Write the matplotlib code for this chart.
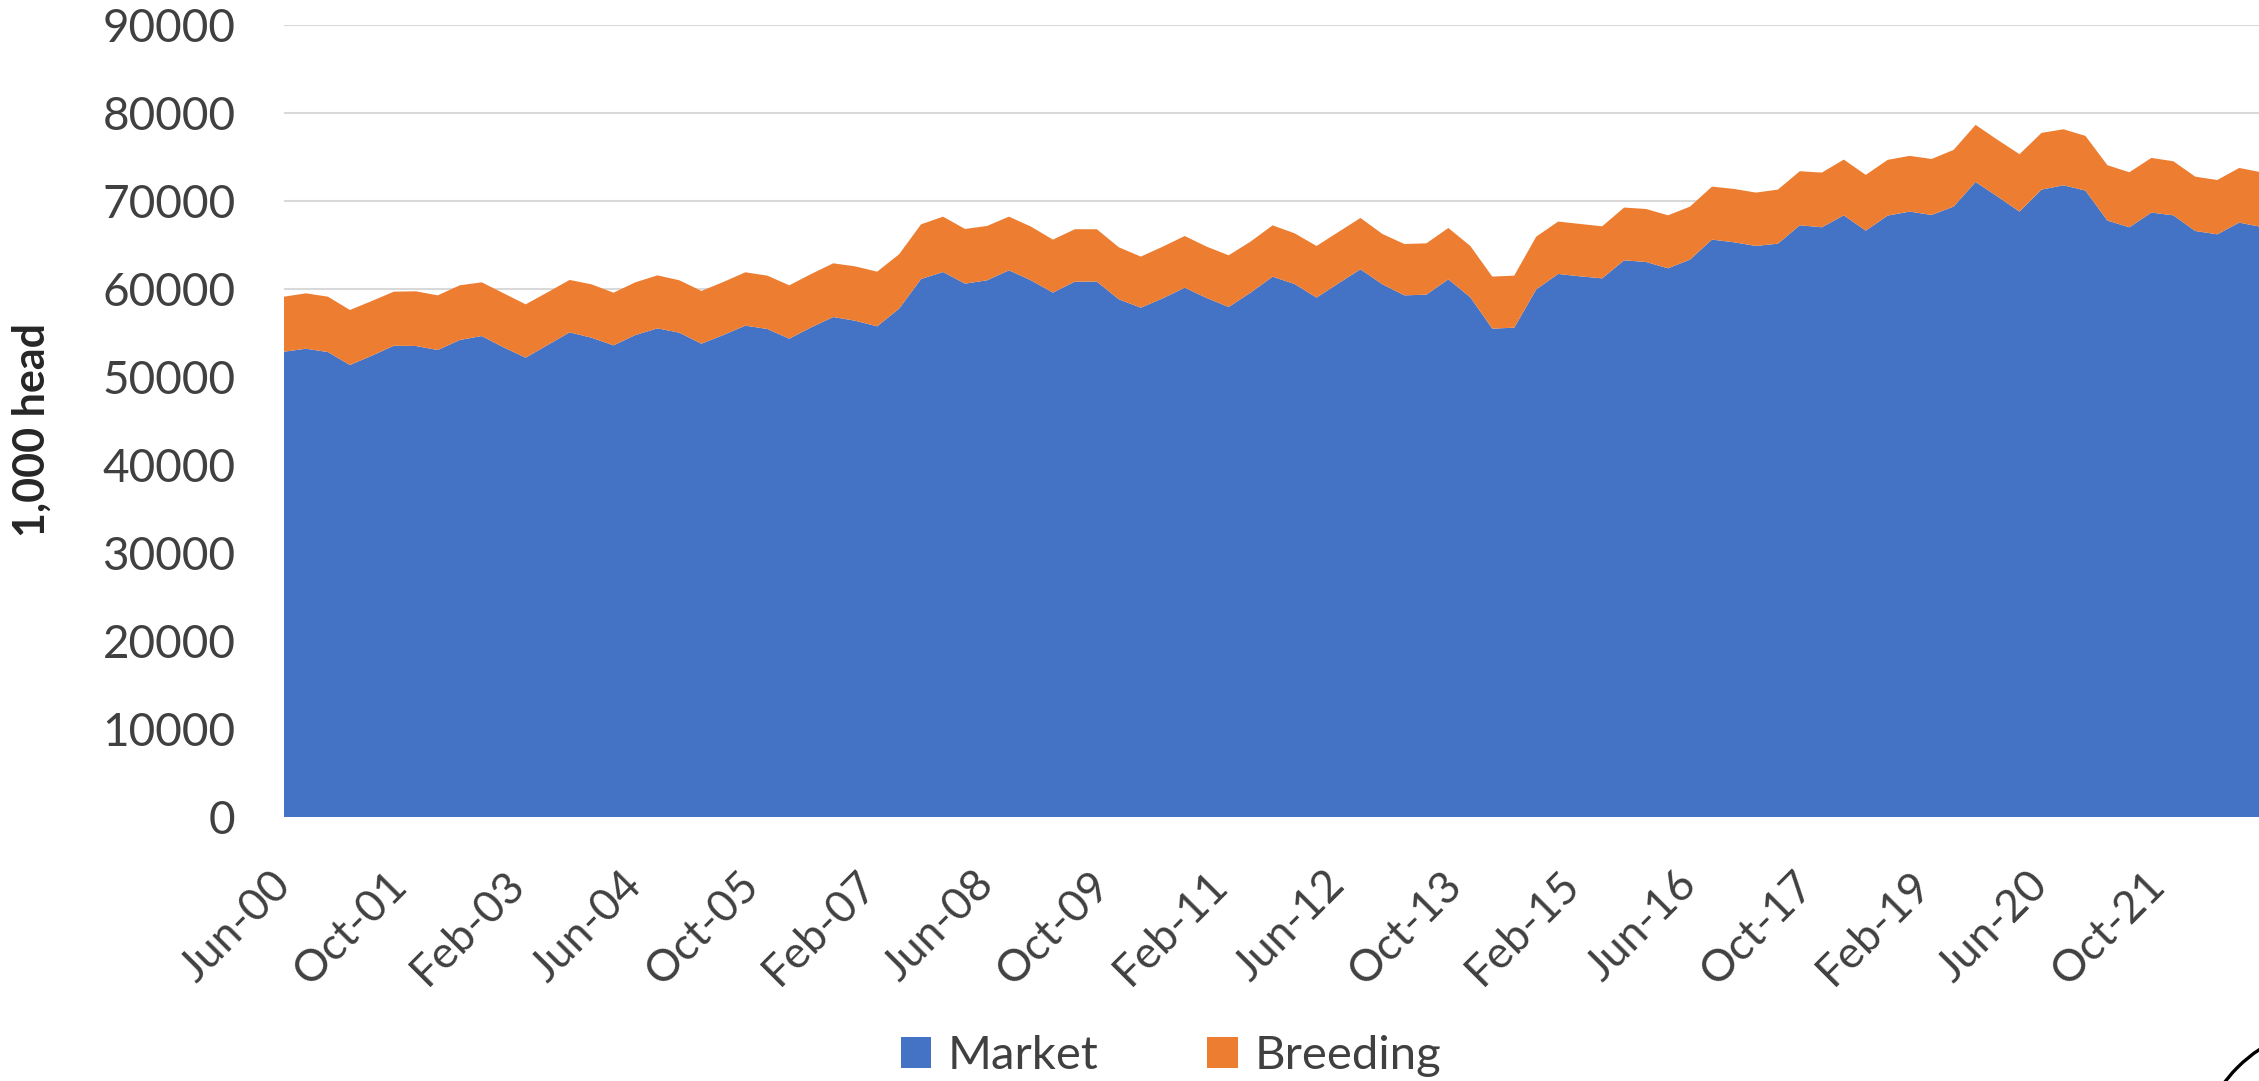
import matplotlib
matplotlib.use("Agg")
import matplotlib.pyplot as plt
from matplotlib import patches

# ---------------- data (1,000 head), quarterly from Jun-00 ----------------
market = [52840, 53180, 52800, 51330, 52390, 53520, 53490, 53030, 54170, 54620,
          53330, 52160, 53600, 55040, 54430, 53560, 54740, 55490, 55000, 53750,
          54740, 55800, 55420, 54320, 55610, 56780, 56360, 55720, 57730, 61100,
          61890, 60570, 60950, 62080, 60950, 59550, 60800, 60800, 58790, 57840,
          58900, 60110, 58940, 57920, 59550, 61360, 60530, 58980, 60610, 62200,
          60490, 59240, 59320, 61060, 59020, 55460, 55570, 59920, 61670, 61400,
          61170, 63220, 63030, 62310, 63300, 65570, 65270, 64850, 65110, 67200,
          66970, 68330, 66590, 68300, 68750, 68370, 69320, 72120, 70460, 68750,
          71250, 71740, 71140, 67730, 66970, 68640, 68330, 66550, 66170, 67500,
          67010]
breeding = [6250, 6290, 6290, 6250, 6210, 6140, 6210, 6210, 6210, 6100,
            6140, 6060, 5990, 5950, 6060, 5980, 5990, 6020, 5950, 5990,
            6020, 6060, 6060, 6060, 6060, 6100, 6170, 6210, 6180, 6210,
            6290, 6210, 6170, 6100, 6100, 6020, 5950, 5950, 5910, 5800,
            5870, 5870, 5830, 5870, 5800, 5830, 5760, 5870, 5830, 5830,
            5720, 5830, 5830, 5830, 5830, 5910, 5910, 5990, 5950, 5950,
            5910, 5990, 6020, 6020, 6020, 6020, 6060, 6060, 6140, 6140,
            6210, 6330, 6330, 6330, 6330, 6360, 6440, 6480, 6440, 6520,
            6440, 6360, 6210, 6290, 6250, 6210, 6140, 6170, 6170, 6210,
            6210]
tick_labels = ["Jun-00", "Oct-01", "Feb-03", "Jun-04", "Oct-05", "Feb-07",
               "Jun-08", "Oct-09", "Feb-11", "Jun-12", "Oct-13", "Feb-15",
               "Jun-16", "Oct-17", "Feb-19", "Jun-20", "Oct-21"]
series_names = ["Market", "Breeding"]
y_ticks = [0, 10000, 20000, 30000, 40000, 50000, 60000, 70000, 80000, 90000]

# months since Jun-00 for each quarterly observation
months = [3 * i for i in range(len(market))]
tick_months = [16 * k for k in range(len(tick_labels))]

BLUE = "#4472C4"
ORANGE = "#ED7D31"
TXT = "#404040"
FONT = ["Lato", "DejaVu Sans"]

plt.rcParams["font.family"] = FONT

W, H = 2259, 1081
fig = plt.figure(figsize=(W / 100, H / 100), dpi=100)
ax = fig.add_axes([284 / W, (H - 817) / H, 1 - 284 / W, (817 - 24.5) / H])

polys = ax.stackplot(months, market, breeding, colors=[BLUE, ORANGE],
                     labels=series_names, linewidth=0, zorder=2)
for p in polys:
    p.set_edgecolor("none")

ax.set_xlim(0, 269.7)
ax.set_ylim(0, 90000)
ax.set_yticks(y_ticks)
ax.set_yticklabels([str(v) for v in y_ticks])
ax.set_xticks(tick_months)
ax.set_xticklabels(tick_labels)

ax.grid(axis="y", color="#D9D9D9", linewidth=1.5, zorder=0)
ax.set_axisbelow(True)
for s in ax.spines.values():
    s.set_visible(False)

ax.tick_params(axis="y", length=0, pad=35, labelsize=33, labelcolor=TXT)
ax.tick_params(axis="x", length=0, pad=44, labelsize=32, labelcolor=TXT)
for lab in ax.get_xticklabels():
    lab.set_rotation(45)
    lab.set_ha("right")
    lab.set_va("center")
    lab.set_rotation_mode("anchor")

fig.text(32 / W, 1 - 430 / H, "1,000 head", rotation=90, ha="center",
         va="center", fontsize=31, fontweight="bold", color="#262626")

leg = fig.legend(handles=polys, labels=series_names, loc="center",
                 bbox_to_anchor=(1171 / W, 1 - 1056 / H), ncol=2,
                 frameon=False, fontsize=34, handlelength=0.64,
                 handleheight=0.64, handletextpad=0.36, columnspacing=2.3,
                 borderaxespad=0, borderpad=0)
for t in leg.get_texts():
    t.set_color(TXT)

circ = patches.Circle((23.40, -0.89), 1.45, transform=fig.dpi_scale_trans,
                      fill=False, lw=2.4, ec="black", clip_on=False)
fig.add_artist(circ)

fig.savefig("out.png", dpi=100)
